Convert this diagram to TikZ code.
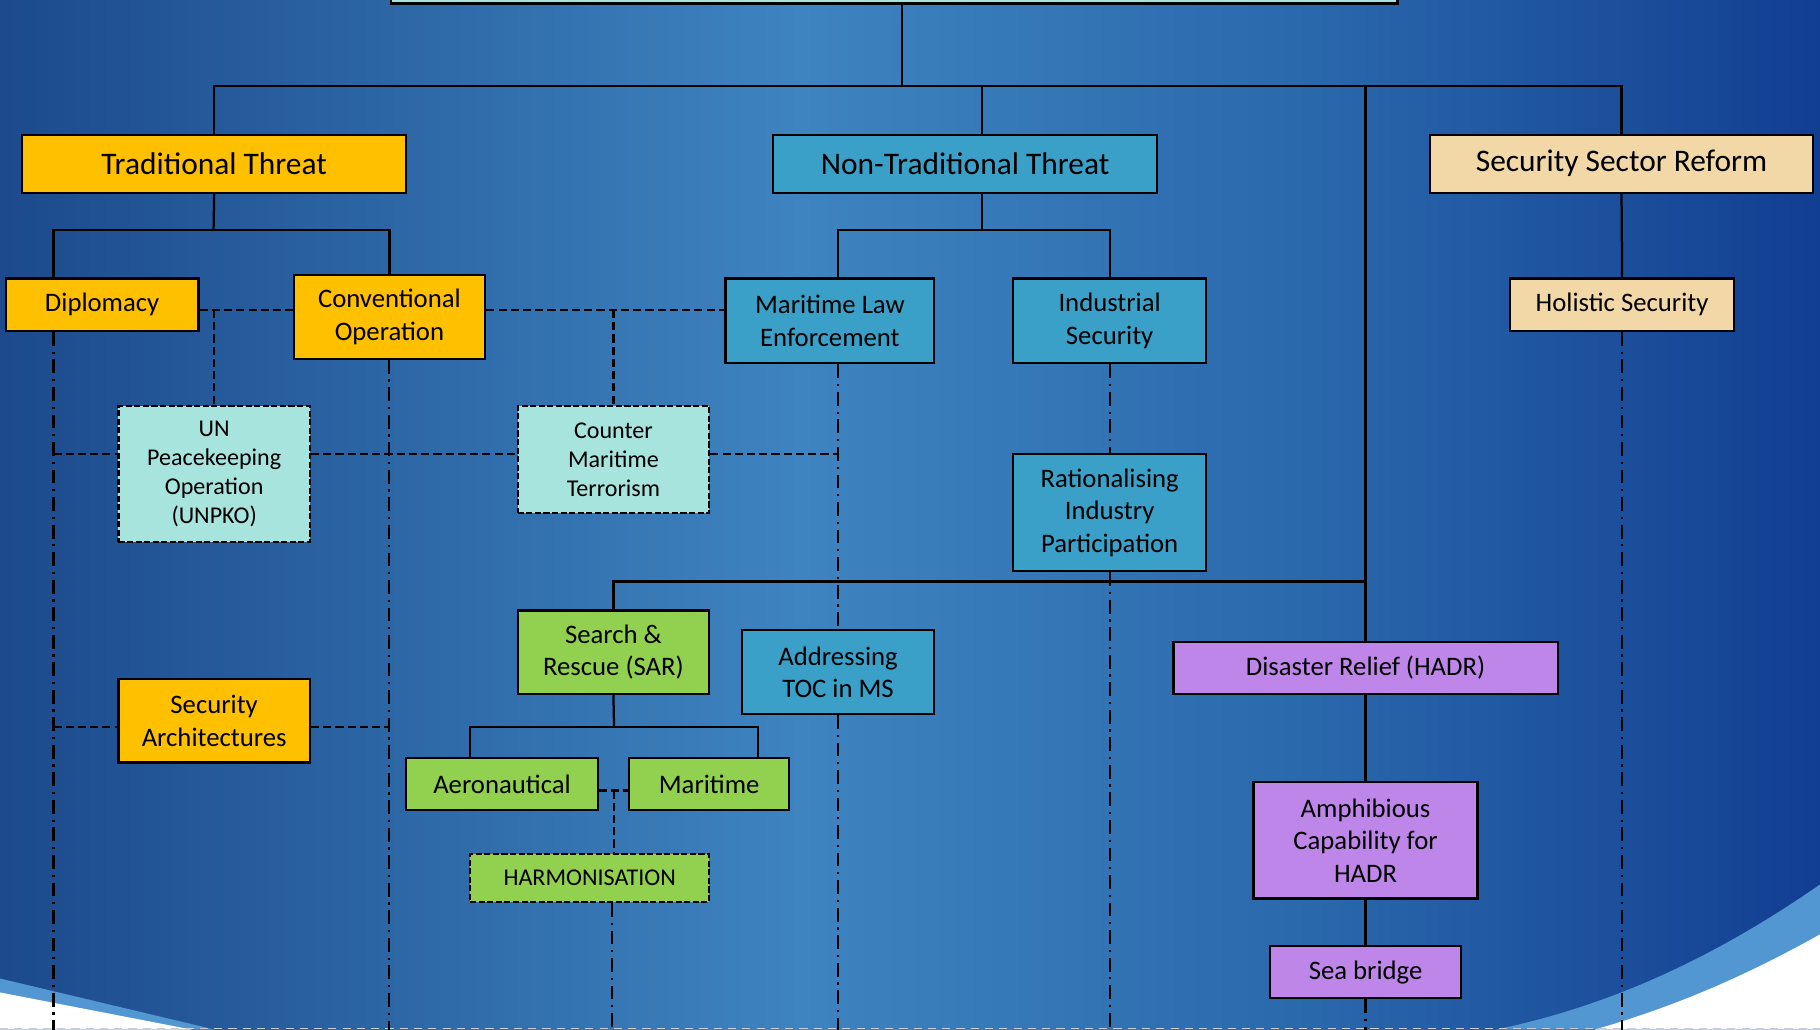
\documentclass[tikz,border=0pt]{standalone}
\usepackage{fontspec}
\setmainfont{Carlito}

\definecolor{orng}{RGB}{255,192,0}
\definecolor{ntblue}{RGB}{58,160,200}
\definecolor{sandcol}{RGB}{242,216,166}
\definecolor{pale}{RGB}{168,228,222}
\definecolor{lgreen}{RGB}{146,208,80}
\definecolor{lilac}{RGB}{190,134,232}
\definecolor{bgA}{RGB}{28,74,140}
\definecolor{bgB}{RGB}{62,132,192}
\definecolor{bgC}{RGB}{42,104,172}
\definecolor{bgD}{RGB}{18,62,145}
\definecolor{swash}{RGB}{82,150,210}

\pgfdeclarehorizontalshading{slidebg}{100bp}{color(0bp)=(bgA); color(25bp)=(bgA);
  color(47bp)=(bgB); color(61bp)=(bgC); color(75bp)=(bgD); color(100bp)=(bgD)}

\tikzset{
  box/.style={draw=black, line width=1.1pt, align=center, inner sep=2pt, text=black},
  dbox/.style={box, dash pattern=on 3pt off 1.2pt},
  fbig/.style={font=\fontsize{15.4}{18.8}\selectfont},
  fmid/.style={font=\fontsize{13.1}{15.9}\selectfont},
  fsml/.style={font=\fontsize{11.8}{14.2}\selectfont},
  solidline/.style={line width=1.1pt},
  dashline/.style={line width=1.1pt, dash pattern=on 4pt off 2pt},
  dotline/.style={line width=1.1pt, dash pattern=on 6.8pt off 2.8pt on 1.1pt off 2.8pt},
}

\begin{document}
\begin{tikzpicture}[x=0.02cm, y=-0.02cm]
    \useasboundingbox (0,0) rectangle (1568,887);
    \clip (0,0) rectangle (1568,887);
    % slide background
    \shade[shading=slidebg] (0,0) rectangle (1568,887);
    \fill[swash] (1568,762) .. controls (1470,830) and (1380,868) .. (1289,887) -- (1568,887) -- cycle;
    \fill[white] (1568,805) .. controls (1500,843) and (1440,868) .. (1374,887) -- (1568,887) -- cycle;
    \fill[swash] (0,843) -- (185,887) -- (0,887) -- cycle;
    \fill[white] (0,855) -- (165,887) -- (0,887) -- cycle;
    \draw[gray!40, line width=0.7pt, dash pattern=on 4pt off 3pt] (0,886) -- (1568,886);

    % columns and rows
    \coordinate (hub) at (777,74);
    \coordinate (tbus) at (184,198);
    \coordinate (nbus) at (846,198);
    \coordinate (sbus) at (529,501);
    \coordinate (abus) at (529,626);
    \coordinate (cA) at (46,0);
    \coordinate (cC) at (335,0);
    \coordinate (cD) at (529,0);
    \coordinate (cE) at (722,0);
    \coordinate (xae) at (405,0);
    \coordinate (xma) at (653,0);
    \coordinate (xha) at (527,0);
    \coordinate (r1) at (0,267);
    \coordinate (r2) at (0,391);
    \coordinate (r3) at (0,626);
    \coordinate (r4) at (0,681);
    \coordinate (bot) at (0,890);

    % boxes
    \node[box, fill=pale, minimum width=17.34cm, minimum height=1cm] (goal) at (770.5,-22) {};
    \node[box, fbig, fill=orng, minimum width=6.62cm, minimum height=1cm] (trad) at (184.5,141) {Traditional Threat};
    \node[box, fbig, fill=ntblue, minimum width=6.62cm, minimum height=1cm] (ntrad) at (831.5,141) {Non-Traditional Threat};
    \node[box, fbig, fill=sandcol, minimum width=6.6cm, minimum height=1cm] (ssr) at (1397,141) {Security Sector Reform};

    \node[box, fmid, fill=orng, minimum width=3.32cm, minimum height=0.9cm] (dipl) at (88,262.5) {Diplomacy};
    \node[box, fmid, fill=orng, minimum width=3.3cm, minimum height=1.44cm] (conv) at (335.5,273) {Conventional\\Operation};
    \node[box, fmid, fill=ntblue, minimum width=3.6cm, minimum height=1.46cm] (mle) at (715,276.5) {Maritime Law\\Enforcement};
    \node[box, fmid, fill=ntblue, minimum width=3.32cm, minimum height=1.46cm] (indsec) at (956,276.5) {Industrial\\Security};
    \node[box, fmid, fill=sandcol, minimum width=3.86cm, minimum height=0.9cm] (holsec) at (1397.5,262.5) {Holistic Security};

    \node[dbox, fsml, fill=pale, minimum width=3.3cm, minimum height=2.34cm] (unpko) at (184.5,408.5) {UN\\Peacekeeping\\Operation\\(UNPKO)};
    \node[dbox, fsml, fill=pale, minimum width=3.3cm, minimum height=1.84cm] (cmt) at (528.5,396) {Counter\\Maritime\\Terrorism};
    \node[box, fmid, fill=ntblue, minimum width=3.32cm, minimum height=2.02cm] (rip) at (956,441.5) {Rationalising\\Industry\\Participation};
    \node[box, fmid, fill=orng, minimum width=3.3cm, minimum height=1.44cm] (secarch) at (184.5,621) {Security\\Architectures};

    \node[box, fmid, fill=lgreen, minimum width=3.3cm, minimum height=1.44cm] (sar) at (528.5,562) {Search \&\\Rescue (SAR)};
    \node[box, fmid, fill=ntblue, minimum width=3.32cm, minimum height=1.44cm] (toc) at (722,579) {Addressing\\TOC in MS};
    \node[box, fmid, fill=lgreen, minimum width=3.3cm, minimum height=0.9cm] (aero) at (432.5,675.5) {Aeronautical};
    \node[box, fmid, fill=lgreen, minimum width=2.76cm, minimum height=0.9cm] (mari) at (611,675.5) {Maritime};
    \node[dbox, fsml, fill=lgreen, minimum width=4.12cm, minimum height=0.82cm] (harm) at (508,756.5) {HARMONISATION};

    \node[box, fmid, fill=lilac, minimum width=6.62cm, minimum height=0.9cm] (hadr) at (1176.5,575.5) {Disaster Relief (HADR)};
    \node[box, fmid, fill=lilac, minimum width=3.86cm, minimum height=2cm] (amph) at (1176.5,724) {Amphibious\\Capability for\\HADR};
    \node[box, fmid, fill=lilac, minimum width=3.3cm, minimum height=0.9cm] (seabr) at (1176.5,837.5) {Sea bridge};

    % tree lines
    \draw[solidline] (goal.south -| hub) -- (hub);
    \draw[solidline] (trad.north) |- (hub) -| (ssr.north);
    \draw[solidline] (ntrad.north -| nbus) -- (nbus |- hub);
    \draw[solidline] (hadr.north) -- (hadr.north |- hub);
    \draw[solidline] (trad.south) -- (tbus);
    \draw[solidline] (dipl.north -| cA) |- (tbus) -| (conv.north);
    \draw[solidline] (ntrad.south -| nbus) -- (nbus);
    \draw[solidline] (mle.north -| cE) |- (nbus) -| (indsec.north);
    \draw[solidline] (ssr.south) -- (holsec.north);
    \draw[solidline] (sar.north) |- (hadr.north |- sbus);
    \draw[solidline] (sar.south) -- (abus);
    \draw[solidline] (aero.north -| xae) |- (abus) -| (mari.north -| xma);
    \draw[solidline] (hadr.south) -- (amph.north);
    \draw[solidline] (amph.south) -- (seabr.north);

    % dashed links
    \draw[dashline] (dipl.east |- r1) -- (conv.west |- r1);
    \draw[dashline] (unpko.north |- r1) -- (unpko.north);
    \draw[dashline] (conv.east |- r1) -- (mle.west |- r1);
    \draw[dashline] (cmt.north |- r1) -- (cmt.north);
    \draw[dashline] (cA |- r2) -- (unpko.west |- r2);
    \draw[dashline] (unpko.east |- r2) -- (cmt.west |- r2);
    \draw[dashline] (cmt.east |- r2) -- (cE |- r2);
    \draw[dashline] (cA |- r3) -- (secarch.west |- r3);
    \draw[dashline] (secarch.east |- r3) -- (cC |- r3);
    \draw[dashline] (aero.east |- r4) -- (mari.west |- r4);
    \draw[dashline] (cD |- r4) -- (harm.north -| cD);

    % dash-dot drops
    \draw[dotline] (dipl.south -| cA) -- (cA |- bot);
    \draw[dotline] (conv.south -| cC) -- (cC |- bot);
    \draw[dotline] (mle.south -| cE) -- (toc.north);
    \draw[dotline] (toc.south) -- (toc.south |- bot);
    \draw[dotline] (indsec.south) -- (rip.north);
    \draw[dotline] (rip.south) -- (rip.south |- bot);
    \draw[dotline] (holsec.south) -- (holsec.south |- bot);
    \draw[dotline] (seabr.south) -- (seabr.south |- bot);
    \draw[dotline] (harm.south -| xha) -- (xha |- bot);
\end{tikzpicture}
\end{document}
